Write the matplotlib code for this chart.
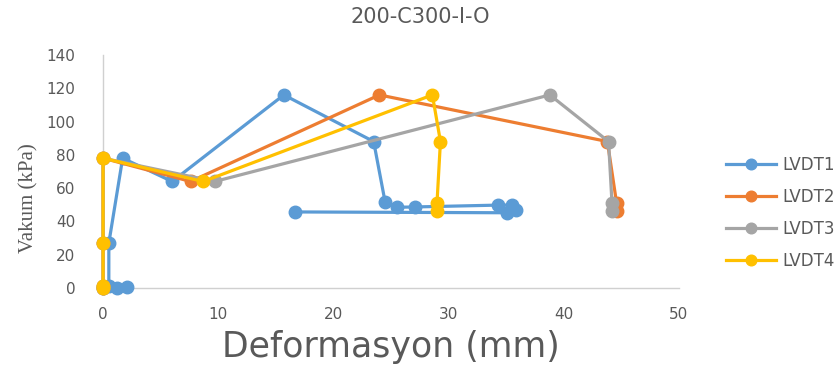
import matplotlib.pyplot as plt

# Deformation (mm) vs vacuum (kPa) for each LVDT
lvdt1_x = [0.0, 1.2, 2.1, 0.5, 0.5, 1.7, 6.0, 15.7, 23.5, 24.5, 25.5, 27.1, 34.3, 35.5, 35.9, 35.1, 16.7]
lvdt1_y = [0.0, 0.3, 0.5, 1.5, 27, 78, 64, 116, 88, 51.5, 48.5, 48.7, 49.8, 49.8, 47.0, 45.2, 45.7]

lvdt2_x = [0.0, 0.0, 0.0, 0.0, 7.6, 24.0, 43.8, 44.6, 44.6]
lvdt2_y = [0.0, 1.5, 27, 78, 64, 116, 88, 51, 46]

lvdt3_x = [0.0, 0.0, 0.0, 0.0, 9.7, 38.8, 43.9, 44.2, 44.2]
lvdt3_y = [0.0, 1.5, 27, 78, 64, 116, 88, 51, 46]

lvdt4_x = [0.0, 0.0, 0.0, 0.0, 8.7, 28.6, 29.3, 29.0, 29.0]
lvdt4_y = [0.0, 1.5, 27, 78, 64, 116, 88, 51, 46]

series = [
    ('LVDT1', lvdt1_x, lvdt1_y, '#5B9BD5'),
    ('LVDT2', lvdt2_x, lvdt2_y, '#ED7D31'),
    ('LVDT3', lvdt3_x, lvdt3_y, '#A5A5A5'),
    ('LVDT4', lvdt4_x, lvdt4_y, '#FFC000'),
]

txt = '#595959'

fig = plt.figure(figsize=(8.38, 3.69), dpi=100)
ax = fig.add_axes([0.123, 0.2195, 0.687, 0.6315])

for name, xs, ys, col in series:
    ax.plot(xs, ys, '-o', color=col, lw=2.3, ms=9, label=name, clip_on=False)

ax.set_xlim(0, 50)
ax.set_ylim(0, 140)
ax.set_xticks(range(0, 51, 10))
ax.set_yticks(range(0, 141, 20))
ax.tick_params(length=0, labelsize=11, colors=txt)
ax.tick_params(axis='x', pad=14)
ax.tick_params(axis='y', pad=20)

for side in ['top', 'right']:
    ax.spines[side].set_visible(False)
for side in ['left', 'bottom']:
    ax.spines[side].set_color('#D0D0D0')
    ax.spines[side].set_linewidth(1.0)
    ax.spines[side].set_zorder(0)

fig.text(0.501, 0.953, '200-C300-I-O', ha='center', va='center', fontsize=15, color=txt)
fig.text(0.467, 0.06, 'Deformasyon (mm)', ha='center', va='center', fontsize=25, color=txt)
fig.text(0.034, 0.463, 'Vakum (kPa)', ha='center', va='center', rotation=90,
         fontsize=15, color=txt, family='Liberation Serif')

ax.legend(loc='center left', bbox_to_anchor=(1.056, 0.322), bbox_transform=ax.transAxes,
          frameon=False, fontsize=12, labelcolor=txt, handlelength=3.0,
          handletextpad=0.4, labelspacing=0.85, markerscale=0.85)

fig.savefig('out.png', dpi=100)
